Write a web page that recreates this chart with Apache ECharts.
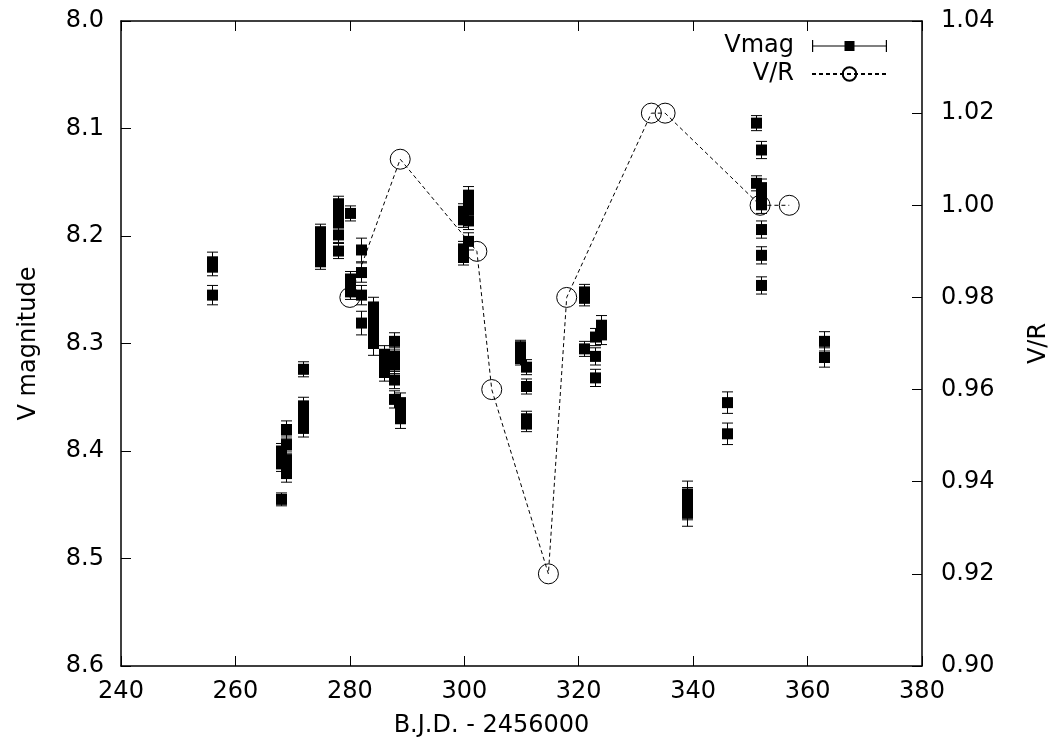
<!DOCTYPE html>
<html><head><meta charset="utf-8">
<script src="https://cdn.jsdelivr.net/npm/echarts@6/dist/echarts.min.js"></script>
<style>html,body{margin:0;padding:0;background:#fff}#c{width:1060px;height:748px}</style>
</head><body><div id="c"></div>
<script>
// ---- data ----
const vmagX = [
  255.9,255.9,255.9,
  267.9,267.9,267.9,267.9,
  268.9,268.9,268.9,268.9,268.9,
  271.8,271.8,271.8,271.8,271.8,
  274.8,274.8,274.8,274.8,274.8,
  277.9,277.9,277.9,277.9,277.9,277.9,
  280.0,280.0,280.0,280.0,
  282.0,282.0,282.0,282.0,
  284.0,284.0,284.0,284.0,284.0,
  285.9,285.9,285.9,285.9,
  287.8,287.8,287.8,287.8,287.8,
  288.7,288.7,288.7,
  299.8,299.8,299.8,299.8,
  300.7,300.7,300.7,300.7,300.7,
  309.8,309.8,309.8,
  310.8,310.8,310.8,310.8,
  320.9,320.9,320.9,
  322.9,322.9,322.9,
  323.9,323.9,
  339.0,339.0,339.0,339.0,
  346.0,346.0,
  351.0,351.0,
  351.9,351.9,351.9,351.9,351.9,351.9,351.9,351.9,
  362.9,362.9
];
const vmagY = [
  8.224,8.229,8.255,
  8.400,8.406,8.412,8.445,
  8.380,8.394,8.408,8.415,8.421,
  8.324,8.358,8.365,8.372,8.379,
  8.196,8.203,8.209,8.215,8.224,
  8.170,8.176,8.182,8.188,8.199,8.214,
  8.179,8.240,8.246,8.252,
  8.213,8.234,8.255,8.281,
  8.266,8.275,8.284,8.293,8.300,
  8.310,8.317,8.322,8.327,
  8.298,8.312,8.320,8.334,8.352,
  8.355,8.362,8.370,
  8.177,8.185,8.212,8.220,
  8.162,8.168,8.176,8.186,8.205,
  8.303,8.308,8.314,
  8.322,8.340,8.370,8.375,
  8.252,8.258,8.305,
  8.294,8.312,8.332,
  8.283,8.292,
  8.440,8.446,8.452,8.458,
  8.355,8.384,
  8.095,8.151,
  8.120,8.155,8.160,8.166,8.171,8.194,8.218,8.246,
  8.298,8.313
];
const vmagErr = [
  0.009,0.008,0.009,
  0.007,0.007,0.007,0.006,
  0.008,0.008,0.008,0.008,0.008,
  0.007,0.008,0.008,0.008,0.008,
  0.007,0.007,0.007,0.007,0.007,
  0.007,0.007,0.007,0.007,0.007,0.007,
  0.007,0.007,0.007,0.007,
  0.011,0.009,0.009,0.011,
  0.009,0.009,0.011,0.011,0.011,
  0.008,0.008,0.008,0.008,
  0.008,0.008,0.008,0.008,0.008,
  0.009,0.009,0.009,
  0.007,0.007,0.007,0.007,
  0.008,0.008,0.008,0.008,0.008,
  0.006,0.006,0.006,
  0.007,0.007,0.007,0.007,
  0.007,0.007,0.007,
  0.008,0.008,0.008,
  0.009,0.009,
  0.012,0.012,0.012,0.012,
  0.010,0.010,
  0.007,0.007,
  0.008,0.008,0.008,0.008,0.008,0.008,0.008,0.008,
  0.009,0.009
];
const vrX = [280.0, 288.8, 302.2, 304.8, 314.7, 317.9, 332.7, 335.1, 351.7, 356.8];
const vrY = [0.98, 1.01, 0.99, 0.96, 0.92, 0.98, 1.02, 1.02, 1.00, 1.00];

const xMin = 240, xMax = 380, xStep = 20;
const yMin = 8.0, yMax = 8.6, yStep = 0.1;
const y2Min = 0.90, y2Max = 1.04, y2Step = 0.02;
const xName = 'B.J.D. - 2456000', yName = 'V magnitude', y2Name = 'V/R';
const seriesNames = ['Vmag', 'V/R'];

// ---- chart ----
const FONT = 'DejaVu Sans';
const FS = 24;
const vmagData = vmagX.map((x, i) => [x, vmagY[i], vmagErr[i]]);
const vrData = vrX.map((x, i) => [x, vrY[i]]);

const tick = {show: true, inside: true, length: 10, lineStyle: {color: '#000', width: 1}};
const axLine = {show: true, onZero: false, lineStyle: {color: '#000', width: 1.5}};
const lbl = {color: '#000', fontFamily: FONT, fontSize: FS};

const chart = echarts.init(document.getElementById('c'), null, {renderer: 'canvas'});
chart.setOption({
  animation: false,
  backgroundColor: '#fff',
  grid: {left: 121, right: 138, top: 21, bottom: 82, containLabel: false},
  legend: {
    orient: 'vertical', right: 172, top: 34, align: 'right', padding: 0,
    itemWidth: 75, itemHeight: 17, itemGap: 4,
    textStyle: {color: '#000', fontFamily: FONT, fontSize: FS, padding: [0, 13, 0, 0]},
    data: [
      {name: seriesNames[0], icon: 'path://M0,2.5h1.2v12h-1.2z M73.8,2.5h1.2v12h-1.2z M0,7.9h75v1.2h-75z M32.5,3.5h10v10h-10z M0,0h0.01v0.01h-0.01z M74.99,16.99h0.01v0.01h-0.01z'},
      {name: seriesNames[1]}
    ]
  },
  xAxis: [
    {type: 'value', min: xMin, max: xMax, interval: xStep, position: 'bottom',
     name: xName, nameLocation: 'middle', nameGap: 48,
     nameTextStyle: {color: '#000', fontFamily: FONT, fontSize: FS, padding: [0, 60, 0, 0]},
     axisLine: axLine, axisTick: tick, splitLine: {show: false},
     axisLabel: Object.assign({margin: 14}, lbl)},
    {type: 'value', min: xMin, max: xMax, interval: xStep, position: 'top',
     axisLine: axLine, axisTick: tick, splitLine: {show: false}, axisLabel: {show: false}}
  ],
  yAxis: [
    {type: 'value', min: yMin, max: yMax, interval: yStep, inverse: true, position: 'left',
     name: yName, nameLocation: 'middle', nameGap: 80, nameRotate: 90,
     nameTextStyle: {color: '#000', fontFamily: FONT, fontSize: FS},
     axisLine: axLine, axisTick: tick, splitLine: {show: false},
     axisLabel: Object.assign({margin: 17, formatter: v => v.toFixed(1)}, lbl)},
    {type: 'value', min: y2Min, max: y2Max, interval: y2Step, position: 'right',
     name: y2Name, nameLocation: 'middle', nameGap: 105, nameRotate: 90,
     nameTextStyle: {color: '#000', fontFamily: FONT, fontSize: FS},
     axisLine: axLine, axisTick: tick, splitLine: {show: false},
     axisLabel: Object.assign({margin: 19, formatter: v => v.toFixed(2)}, lbl)}
  ],
  series: [
    {name: seriesNames[1], type: 'line', xAxisIndex: 0, yAxisIndex: 1, data: vrData,
     symbol: 'circle', symbolSize: 20, z: 2,
     itemStyle: {color: 'rgba(255,255,255,0)', borderColor: '#000', borderWidth: 1},
     lineStyle: {color: '#000', width: 1, type: [4, 3]}},
    {name: seriesNames[0], type: 'custom', xAxisIndex: 0, yAxisIndex: 0, data: vmagData, z: 3,
     itemStyle: {color: '#000'},
     encode: {x: 0, y: 1},
     renderItem: function (params, api) {
       const x = api.value(0), y = api.value(1), e = api.value(2);
       const c = api.coord([x, y]);
       const t = api.coord([x, y - e]);
       const b = api.coord([x, y + e]);
       const cx = Math.round(c[0]) + 0.5;
       const st = {stroke: '#000', lineWidth: 1};
       return {type: 'group', children: [
         {type: 'line', shape: {x1: cx, y1: t[1], x2: cx, y2: b[1]}, style: st},
         {type: 'line', shape: {x1: cx - 5.5, y1: t[1], x2: cx + 5.5, y2: t[1]}, style: st},
         {type: 'line', shape: {x1: cx - 5.5, y1: b[1], x2: cx + 5.5, y2: b[1]}, style: st},
         {type: 'rect', shape: {x: cx - 5.5, y: c[1] - 5.5, width: 11, height: 11}, style: {fill: '#000'}}
       ]};
     }}
  ]
});
</script></body></html>
